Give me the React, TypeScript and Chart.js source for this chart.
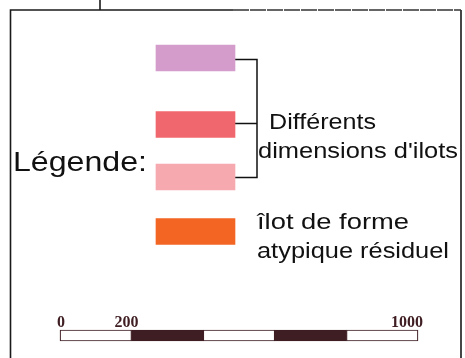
import React, { useEffect, useRef } from "react";
import { Chart, registerables } from "chart.js";

Chart.register(...registerables);

// ---- data ----
const swatchColors = ["#D49CCA", "#F0686D", "#F6A9AF", "#F26522"];
const groupLabel = ["Différents", "dimensions d'ilots"];
const atypicalLabel = ["îlot de forme", "atypique résiduel"];
const titleLabel = "Légende:";
const scaleSegments = [0, 200, 400, 600, 800, 1000];
const scaleTickLabels = [0, 200, 1000];

// ---- layout (pixels) ----
const W = 465;
const H = 358;
const swatchX = [156, 235];
const swatchY = [58, 124.5, 177, 231.5];
const swatchH = 26;
const scaleBarY = 335.5;
const scaleBarH = 11;
const scalePx0 = 60;
const scalePx1 = 418;

export default function App() {
  const ref = useRef<HTMLCanvasElement>(null);
  useEffect(() => {
    const canvas = ref.current!;
    const k = (scalePx1 - scalePx0) / (scaleSegments[scaleSegments.length - 1] - scaleSegments[0]);
    const xsMin = scaleSegments[0] - scalePx0 / k;
    const xsMax = scaleSegments[0] + (W - scalePx0) / k;

    const segData = scaleSegments.slice(0, -1).map((v, i) => ({ x: [v, scaleSegments[i + 1]], y: scaleBarY }));
    const segColors = segData.map((_, i) => (i % 2 === 0 ? "#FFFFFF" : "#3F1E23"));

    const stretchText = (ctx: CanvasRenderingContext2D, text: string, x: number, y: number, size: number, width: number) => {
      ctx.save();
      ctx.font = `${size}px "Liberation Sans", Arial, sans-serif`;
      ctx.textBaseline = "alphabetic";
      ctx.textAlign = "left";
      const m = ctx.measureText(text).width;
      ctx.translate(x, y);
      ctx.scale(width / m, 1);
      ctx.fillStyle = "#111111";
      ctx.fillText(text, 0, 0);
      ctx.restore();
    };

    const decor = {
      id: "decor",
      beforeDatasetsDraw(chart: any) {
        const ctx: CanvasRenderingContext2D = chart.ctx;
        const xs = chart.scales.x;
        const ys = chart.scales.y;
        const px = (v: number) => xs.getPixelForValue(v);
        const py = (v: number) => ys.getPixelForValue(v);
        ctx.save();
        ctx.fillStyle = "#FFFFFF";
        ctx.fillRect(0, 0, W, H);
        ctx.strokeStyle = "#1a1a1a";
        ctx.lineWidth = 1.6;
        // frame
        ctx.beginPath();
        ctx.moveTo(px(10.5), py(H));
        ctx.lineTo(px(10.5), py(10));
        ctx.lineTo(px(233), py(10));
        ctx.moveTo(px(461), py(10));
        ctx.lineTo(px(461), py(H));
        ctx.moveTo(px(100), py(0));
        ctx.lineTo(px(100), py(10));
        ctx.stroke();
        ctx.strokeStyle = "#333333";
        ctx.setLineDash([16, 1]);
        ctx.beginPath();
        ctx.moveTo(px(233), py(10));
        ctx.lineTo(px(461), py(10));
        ctx.stroke();
        ctx.setLineDash([]);
        // bracket
        ctx.strokeStyle = "#111111";
        ctx.lineWidth = 1.5;
        ctx.beginPath();
        ctx.moveTo(px(swatchX[1]), py(59.5));
        ctx.lineTo(px(257), py(59.5));
        ctx.lineTo(px(257), py(177.5));
        ctx.lineTo(px(swatchX[1]), py(177.5));
        ctx.moveTo(px(swatchX[1]), py(123.5));
        ctx.lineTo(px(257), py(123.5));
        ctx.stroke();
        ctx.restore();
      },
      afterDatasetsDraw(chart: any) {
        const ctx: CanvasRenderingContext2D = chart.ctx;
        stretchText(ctx, titleLabel, 13, 171, 28, 134);
        stretchText(ctx, groupLabel[0], 269, 129, 22, 107);
        stretchText(ctx, groupLabel[1], 258, 158, 22, 200);
        stretchText(ctx, atypicalLabel[0], 257, 229, 22, 152);
        stretchText(ctx, atypicalLabel[1], 257, 258, 22, 192);
        // scale bar tick labels
        const xsScale = chart.scales.xs;
        const ys = chart.scales.y;
        ctx.save();
        ctx.fillStyle = "#3F1E23";
        ctx.font = 'bold 16px "Liberation Serif", "Times New Roman", serif';
        ctx.textBaseline = "alphabetic";
        const base = ys.getPixelForValue(scaleBarY) - 9;
        const last = scaleSegments[scaleSegments.length - 1];
        scaleTickLabels.forEach((t) => {
          const p = xsScale.getPixelForValue(t);
          if (t === scaleSegments[0]) {
            ctx.textAlign = "left";
            ctx.fillText(String(t), p - 3, base);
          } else if (t === last) {
            ctx.textAlign = "right";
            ctx.fillText(String(t), p + 5, base);
          } else {
            ctx.textAlign = "center";
            ctx.fillText(String(t), p - 5, base);
          }
        });
        ctx.restore();
      },
    };

    const chart = new Chart(canvas, {
      type: "bar",
      data: {
        datasets: [
          {
            label: "swatches",
            data: swatchY.map((y) => ({ x: swatchX, y })) as any,
            backgroundColor: swatchColors,
            borderWidth: 0,
            barThickness: swatchH,
            grouped: false,
            xAxisID: "x",
          },
          {
            label: "scale",
            data: segData as any,
            backgroundColor: segColors,
            borderColor: "#3F1E23",
            borderWidth: 1.2,
            borderSkipped: false,
            barThickness: scaleBarH,
            grouped: false,
            xAxisID: "xs",
          },
        ],
      },
      options: {
        indexAxis: "y",
        animation: false,
        responsive: false,
        maintainAspectRatio: false,
        layout: { padding: 0 },
        plugins: { legend: { display: false }, tooltip: { enabled: false }, title: { display: false } },
        scales: {
          x: { type: "linear", display: false, min: 0, max: W, offset: false },
          xs: { type: "linear", display: false, min: xsMin, max: xsMax, offset: false },
          y: { type: "linear", display: false, min: 0, max: H, reverse: true, offset: false },
        },
      },
      plugins: [decor],
    });
    return () => chart.destroy();
  }, []);

  return (
    <div style={{ position: "absolute", left: 0, top: 0, width: W, height: H, background: "#fff" }}>
      <canvas ref={ref} width={W} height={H} style={{ display: "block", width: W, height: H }} />
    </div>
  );
}
